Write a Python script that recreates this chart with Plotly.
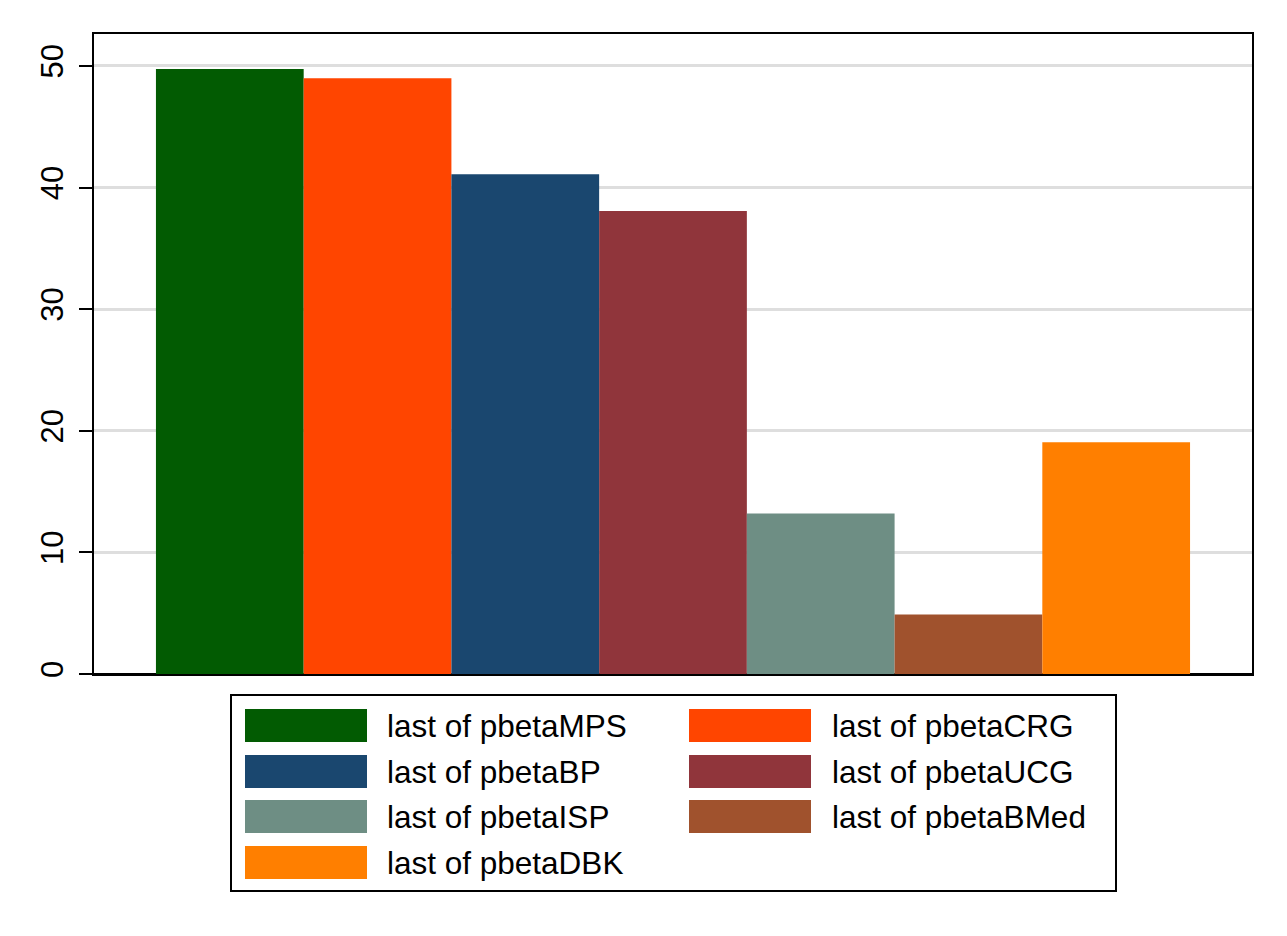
import plotly.graph_objects as go

# ---- data ----
series_names = ["last of pbetaMPS", "last of pbetaCRG", "last of pbetaBP", "last of pbetaUCG",
                "last of pbetaISP", "last of pbetaBMed", "last of pbetaDBK"]
series_values = [49.75, 49.0, 41.1, 38.07, 13.2, 4.9, 19.05]
series_colors = ["#025B02", "#FF4500", "#1A476F", "#90353B", "#6E8E84", "#A0522D", "#FF7F00"]
y_ticks = [0, 10, 20, 30, 40, 50]

OFF = 8  # page body margin
W, H = 1287 - OFF, 936 - OFF
L, T = 94 - OFF, 34 - OFF
R = W + OFF - 1252
B = H + OFF - 674
PW, PH = W - L - R, H - T - B

def px_x(x):
    return (x - OFF - L) / PW

def px_y(y):
    return (H + OFF - B - y) / PH

FONT = "Liberation Sans, Arial, Helvetica, sans-serif"

fig = go.Figure()
for name, val, col in zip(series_names, series_values, series_colors):
    fig.add_trace(go.Bar(x=["g"], y=[val], name=name, marker=dict(color=col, line=dict(width=0)),
                         showlegend=False))

# ---- legend drawn manually (wide Stata-style swatches) ----
shapes = [dict(type="rect", xref="paper", yref="paper",
               x0=px_x(231), x1=px_x(1116), y0=px_y(891), y1=px_y(695),
               line=dict(color="black", width=2), fillcolor="white")]
annotations = []
col_sw_x = [245, 689]
col_tx_x = [385, 830]
row_top = [709, 755, 800, 846]
sw_h = 33
for i, (name, col) in enumerate(zip(series_names, series_colors)):
    c, r = i % 2, i // 2
    y0 = row_top[r]
    shapes.append(dict(type="rect", xref="paper", yref="paper",
                       x0=px_x(col_sw_x[c]), x1=px_x(col_sw_x[c] + 122),
                       y0=px_y(y0 + sw_h), y1=px_y(y0),
                       line=dict(width=0), fillcolor=col))
    annotations.append(dict(xref="paper", yref="paper", x=px_x(col_tx_x[c]), y=px_y(y0 + sw_h / 2),
                            xanchor="left", yanchor="middle", showarrow=False, text=name,
                            font=dict(family=FONT, size=31.5, color="black")))

fig.update_layout(
    width=W, height=H,
    margin=dict(l=L, r=R, t=T, b=B, pad=0),
    paper_bgcolor="white", plot_bgcolor="white",
    barmode="group", bargap=0.107, bargroupgap=0,
    font=dict(family=FONT, size=30, color="black"),
    shapes=shapes, annotations=annotations,
    xaxis=dict(showticklabels=False, ticks="", showgrid=False, showline=True, mirror=True,
               linecolor="black", linewidth=2, zeroline=False),
    yaxis=dict(range=[0, 52.63], tickvals=y_ticks, ticktext=[str(v) for v in y_ticks],
               tickangle=-90, ticks="outside", ticklen=13, tickwidth=2, tickcolor="black",
               ticklabelstandoff=4,
               showgrid=True, gridcolor="#DEDEDE", gridwidth=3,
               showline=True, mirror=True, linecolor="black", linewidth=2,
               zeroline=True, zerolinecolor="black", zerolinewidth=3,
               tickfont=dict(family=FONT, size=31, color="black")),
)

fig.write_html("out.html")
